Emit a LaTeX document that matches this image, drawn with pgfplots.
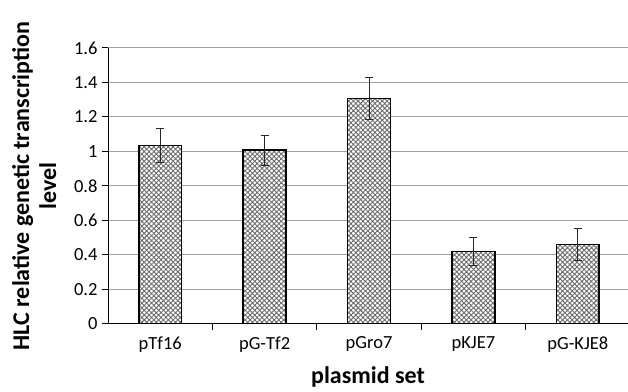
\documentclass[border=0pt]{standalone}
\usepackage{pgfplots}
\pgfplotsset{compat=1.18}
\usepackage{fontspec}
\setmainfont{Carlito}
\usetikzlibrary{patterns.meta}
\begin{document}
\begin{tikzpicture}
\begin{axis}[
  name=ax,
  at={(0,0)}, anchor=south west,
  scale only axis, width=520pt, height=276pt,
  xmin=-0.5, xmax=4.48, ymin=0, ymax=1.6,
  ybar, bar width=0.41,
  axis x line*=bottom, axis y line*=left,
  axis line style={black, line width=1pt},
  ytick={0,0.2,0.4,0.6,0.8,1,1.2,1.4,1.6},
  xtick={0,1,2,3,4},
  xticklabels={pTf16,pG-Tf2,pGro7,pKJE7,pG-KJE8},
  minor xtick={0.5,1.5,2.5,3.5},
  major x tick style={draw=none},
  minor x tick style={draw=black, line width=1pt},
  ytick style={draw=black, line width=1pt},
  tick align=outside,
  major tick length=6pt, minor tick length=6pt,
  ymajorgrids,
  major grid style={gray!75, line width=1pt},
  tick label style={font=\fontsize{18.5}{20}\selectfont, /pgf/number format/assume math mode=true},
  yticklabel style={xshift=-1pt},
  xticklabel style={yshift=-3pt},
  ylabel={HLC relative genetic transcription\\level},
  ylabel style={font=\bfseries\fontsize{24}{27}\selectfont, align=center, yshift=11pt},
  xlabel={plasmid set},
  xlabel style={font=\bfseries\fontsize{24}{27}\selectfont, yshift=-8pt},
]
\addplot[draw=black, line width=1.6pt, fill=white,
  postaction={pattern={Hatch[angle=45,distance=3.4pt,line width=0.9pt]}, pattern color=gray!85!black},
  error bars/.cd, y dir=both, y explicit,
  error bar style={draw=gray!30!black, line width=1pt},
  error mark options={rotate=90, mark size=4pt, draw=gray!30!black, line width=1pt}]
  coordinates {
    (0,1.034) +- (0,0.097)
    (1,1.007) +- (0,0.088)
    (2,1.308) +- (0,0.121)
    (3,0.421) +- (0,0.080)
    (4,0.462) +- (0,0.093)
  };
\end{axis}
\pgfresetboundingbox
\path ([shift={(-108pt,-68pt)}]ax.south west) rectangle ([shift={(0pt,48pt)}]ax.north east);
\end{tikzpicture}
\end{document}
